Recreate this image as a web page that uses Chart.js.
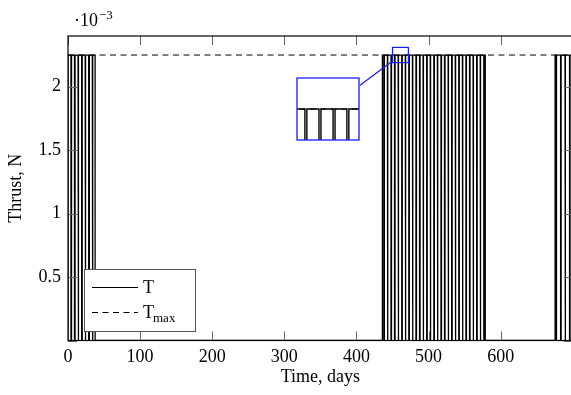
<!DOCTYPE html>
<html>
<head>
<meta charset="utf-8">
<script src="https://cdn.jsdelivr.net/npm/chart.js@4.4.1/dist/chart.umd.min.js"></script>
<style>
  html, body { margin: 0; padding: 0; background: #fff; overflow: hidden; }
  #wrap { position: relative; width: 571px; height: 395px; overflow: hidden; }
  #thrustChart { position: absolute; left: 0; top: 0; }
  #zoomChart { position: absolute; left: 296px; top: 77px; }
</style>
</head>
<body>
<div id="wrap">
  <canvas id="thrustChart" width="580" height="395"></canvas>
  <canvas id="zoomChart" width="64" height="64"></canvas>
</div>
<script>
// engine thrust level (N) and on/off switching times (days)
const thrustMax = 2.25e-3;
const pulseOn = [
  0, 4.9, 9.8, 14.8, 19.7, 24.6, 29.6, 34.5,
  436.0, 438.7, 443.6, 448.6, 453.5, 458.5, 463.5, 468.4, 473.3, 478.3, 483.2, 488.2,
  493.1, 498.1, 503.0, 508.0, 512.9, 517.9, 522.8, 527.8, 532.7, 537.7, 542.6, 547.6,
  552.5, 557.5, 562.4, 567.4, 572.3, 577.3,
  675.5, 677.6, 683.8, 689.9, 696.2
];
const pulseOff = [
  4.1, 9.0, 13.9, 18.9, 23.8, 28.7, 33.7, 37.6,
  438.0, 442.9, 447.9, 452.8, 457.8, 462.8, 467.7, 472.6, 477.6, 482.5, 487.5, 492.4,
  497.4, 502.3, 507.3, 512.2, 517.2, 522.1, 527.1, 532.0, 537.0, 541.9, 546.9, 551.8,
  556.8, 561.7, 566.7, 571.6, 576.6, 578.6,
  676.9, 683.1, 689.2, 695.5, 700
];

// axis ticks
const timeTicks = [0, 100, 200, 300, 400, 500, 600, 700];
const thrustTicks = [0, 0.5e-3, 1e-3, 1.5e-3, 2e-3];

// magnified window
const zoomFrom = 450, zoomTo = 472;
const zoomLow = 2.19e-3, zoomHigh = 2.31e-3;
const inset = { left: 297, top: 78, right: 359, bottom: 140 };

const serif = "'Liberation Serif', 'Times New Roman', serif";
Chart.defaults.font.family = serif;
Chart.defaults.color = '#000';

// stepped thrust profile built from the switching times
const thrustPoints = [{ x: 0, y: 0 }];
pulseOn.forEach((t, i) => {
  thrustPoints.push({ x: t, y: 0 }, { x: t, y: thrustMax },
                    { x: pulseOff[i], y: thrustMax }, { x: pulseOff[i], y: 0 });
});

function makeDatasets(width) {
  return [
    {
      label: 'T',
      data: thrustPoints,
      borderColor: '#000',
      borderWidth: width,
      pointRadius: 0,
      tension: 0
    },
    {
      label: 'Tmax',
      data: [{ x: 0, y: thrustMax }, { x: 700, y: thrustMax }],
      borderColor: '#000',
      borderWidth: 1,
      borderDash: [6, 4.5],
      pointRadius: 0
    }
  ];
}

function edgeT(hw, hh, dx, dy) {
  return Math.min(hw / Math.abs(dx), hh / Math.abs(dy));
}

// inward ticks, frame, legend, zoom marker and scale factor
const decorations = {
  id: 'decorations',
  afterDatasetsDraw(chart) {
    const { ctx, chartArea: a, scales: { x, y } } = chart;
    ctx.save();

    ctx.strokeStyle = '#666';
    ctx.lineWidth = 1;
    ctx.beginPath();
    x.ticks.forEach(t => {
      const px = Math.round(x.getPixelForValue(t.value)) + 0.5;
      ctx.moveTo(px, a.bottom); ctx.lineTo(px, a.bottom - 9);
      ctx.moveTo(px, a.top); ctx.lineTo(px, a.top + 9);
    });
    y.ticks.forEach(t => {
      const py = Math.round(y.getPixelForValue(t.value)) + 0.5;
      ctx.moveTo(a.left, py); ctx.lineTo(a.left + 9, py);
      ctx.moveTo(a.right, py); ctx.lineTo(a.right - 9, py);
    });
    ctx.stroke();

    ctx.strokeStyle = '#000';
    ctx.lineWidth = 1.2;
    ctx.strokeRect(a.left, a.top, a.right - a.left, a.bottom - a.top);

    // zoom marker and connector to the inset
    const bx0 = x.getPixelForValue(zoomFrom), bx1 = x.getPixelForValue(zoomTo);
    const by0 = y.getPixelForValue(zoomHigh), by1 = y.getPixelForValue(zoomLow);
    ctx.strokeStyle = '#1a1aff';
    ctx.lineWidth = 1.2;
    ctx.strokeRect(bx0, by0, bx1 - bx0, by1 - by0);
    const c1 = { x: (bx0 + bx1) / 2, y: (by0 + by1) / 2 };
    const c2 = { x: (inset.left + inset.right) / 2, y: (inset.top + inset.bottom) / 2 };
    const dx = c1.x - c2.x, dy = c1.y - c2.y;
    const tA = edgeT((inset.right - inset.left) / 2, (inset.bottom - inset.top) / 2, dx, dy);
    const tB = 1 - edgeT((bx1 - bx0) / 2, (by1 - by0) / 2, dx, dy);
    ctx.beginPath();
    ctx.moveTo(c2.x + dx * tA, c2.y + dy * tA);
    ctx.lineTo(c2.x + dx * tB, c2.y + dy * tB);
    ctx.stroke();

    // legend
    const lx = a.left + 16, ly = a.bottom - 9.5 - 62;
    ctx.fillStyle = '#fff';
    ctx.fillRect(lx, ly, 111, 62);
    ctx.strokeStyle = '#555';
    ctx.lineWidth = 1;
    ctx.strokeRect(lx + 0.5, ly + 0.5, 111, 62);
    const sets = chart.data.datasets;
    [18, 43].forEach((dy2, i) => {
      ctx.strokeStyle = '#000';
      ctx.lineWidth = 1.1;
      ctx.setLineDash(sets[i].borderDash || []);
      ctx.beginPath();
      ctx.moveTo(lx + 8, ly + dy2 + 0.5);
      ctx.lineTo(lx + 54, ly + dy2 + 0.5);
      ctx.stroke();
    });
    ctx.setLineDash([]);
    ctx.fillStyle = '#000';
    ctx.textBaseline = 'alphabetic';
    ctx.font = '18px ' + serif;
    ctx.fillText('T', lx + 59, ly + 24);
    ctx.fillText('T', lx + 59, ly + 49);
    const tw = ctx.measureText('T').width;
    ctx.font = '13px ' + serif;
    ctx.fillText('max', lx + 59 + tw - 1, ly + 53);

    // common scale factor of the thrust axis
    ctx.font = '18px ' + serif;
    ctx.fillText('\u00b710', 74, 26);
    const w10 = ctx.measureText('\u00b710').width;
    ctx.font = '13px ' + serif;
    ctx.fillText('\u22123', 74 + w10 + 1, 19);

    ctx.restore();
  }
};

new Chart(document.getElementById('thrustChart'), {
  type: 'line',
  data: { datasets: makeDatasets(1.3) },
  options: {
    responsive: false,
    animation: false,
    events: [],
    layout: { padding: { top: 36, right: 7.2, left: 0, bottom: 0 } },
    plugins: { legend: { display: false }, tooltip: { enabled: false } },
    scales: {
      x: {
        type: 'linear',
        min: 0,
        max: 700,
        afterBuildTicks: s => { s.ticks = timeTicks.map(v => ({ value: v })); },
        afterFit: s => { s.height = 54.5; },
        grid: { display: false, drawTicks: false },
        border: { display: false },
        ticks: {
          font: { size: 18 },
          padding: 6,
          maxRotation: 0,
          callback: v => (v >= 700 ? '' : String(v))
        },
        title: { display: true, text: 'Time, days', font: { size: 18 }, padding: { top: 0, bottom: 7 } }
      },
      y: {
        type: 'linear',
        min: 0,
        max: 2.4e-3,
        afterBuildTicks: s => { s.ticks = thrustTicks.map(v => ({ value: v })); },
        afterFit: s => { s.width = 68; },
        grid: { display: false, drawTicks: false },
        border: { display: false },
        ticks: {
          font: { size: 18 },
          padding: 7,
          callback: v => (v === 0 ? '' : String(+(v * 1e3).toFixed(1)))
        },
        title: { display: true, text: 'Thrust, N', font: { size: 18 }, padding: { top: 5, bottom: 0 } }
      }
    }
  },
  plugins: [decorations]
});

// magnified view of a few pulses
const insetFrame = {
  id: 'insetFrame',
  beforeDraw(chart) {
    const { ctx, width, height } = chart;
    ctx.save();
    ctx.fillStyle = '#fff';
    ctx.fillRect(0, 0, width, height);
    ctx.restore();
  },
  afterDraw(chart) {
    const { ctx, chartArea: a } = chart;
    ctx.save();
    ctx.strokeStyle = '#1a1aff';
    ctx.lineWidth = 1.3;
    ctx.strokeRect(a.left, a.top, a.right - a.left, a.bottom - a.top);
    ctx.restore();
  }
};

new Chart(document.getElementById('zoomChart'), {
  type: 'line',
  data: { datasets: makeDatasets(1.4) },
  options: {
    responsive: false,
    animation: false,
    events: [],
    layout: { padding: 1 },
    plugins: { legend: { display: false }, tooltip: { enabled: false } },
    scales: {
      x: { type: 'linear', min: zoomFrom, max: zoomTo, display: false },
      y: { type: 'linear', min: zoomLow, max: zoomHigh, display: false }
    }
  },
  plugins: [insetFrame]
});
</script>
</body>
</html>
